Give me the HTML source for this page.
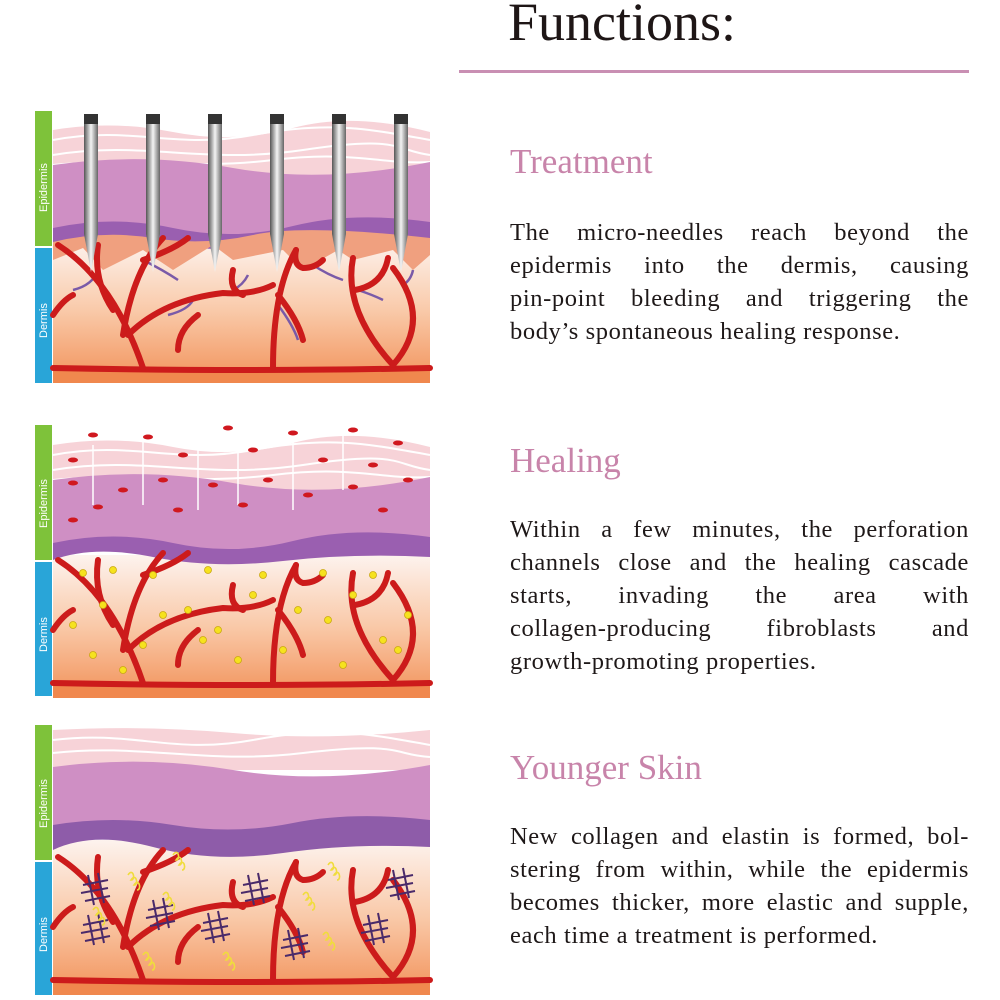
<!DOCTYPE html>
<html><head><meta charset="utf-8"><style>
body{margin:0;background:#fff;width:1000px;height:1000px;position:relative;overflow:hidden;font-family:"Liberation Serif",serif}
h1{position:absolute;left:508px;top:-9px;margin:0;font-weight:normal;font-size:54px;color:#1e1616}
.hr{position:absolute;left:459px;top:70px;width:510px;height:3px;background:#c98fb3}
.h{position:absolute;left:510px;font-size:35px;color:#c884aa}
.p{position:absolute;left:510px;width:459px;font-size:24.5px;letter-spacing:0.6px;line-height:33px;color:#1e1818}
.p div{text-align:justify;text-align-last:justify;white-space:nowrap;height:33px}
.p div.l{text-align-last:left}
svg{position:absolute;left:0;top:0}
</style></head><body>
<h1>Functions:</h1>
<div class="hr"></div>
<div class="h" style="top:142px">Treatment</div>
<div class="p" style="top:216px"><div>The micro-needles reach beyond the</div><div>epidermis into the dermis, causing</div><div>pin-point bleeding and triggering the</div><div class="l">body’s spontaneous healing response.</div></div>
<div class="h" style="top:441px">Healing</div>
<div class="p" style="top:513px"><div>Within a few minutes, the perforation</div><div>channels close and the healing cascade</div><div>starts, invading the area with</div><div>collagen-producing fibroblasts and</div><div class="l">growth-promoting properties.</div></div>
<div class="h" style="top:748px">Younger Skin</div>
<div class="p" style="top:820px"><div>New collagen and elastin is formed, bol-</div><div>stering from within, while the epidermis</div><div>becomes thicker, more elastic and supple,</div><div class="l">each time a treatment is performed.</div></div>

<svg width="1000" height="1000" viewBox="0 0 1000 1000">
<defs>
<linearGradient id="derm" x1="0" y1="0" x2="0" y2="1">
<stop offset="0" stop-color="#fdf3ee"/><stop offset="0.5" stop-color="#f9c9a8"/><stop offset="1" stop-color="#f2925a"/></linearGradient>
<linearGradient id="ndl" x1="0" y1="0" x2="1" y2="0">
<stop offset="0" stop-color="#555"/><stop offset="0.5" stop-color="#f4f4f4"/><stop offset="1" stop-color="#666"/></linearGradient>
<g id="base">
<rect x="0" y="0" width="377" height="273" fill="#fff"/>
<rect x="0" y="130" width="377" height="143" fill="url(#derm)"/>
<path d="M0 20 Q60 10 120 22 T240 18 T377 22 V70 H0Z" fill="#f7d3d8"/>
<path d="M0 30 C80 15 120 40 200 25 S320 20 377 30 M0 45 C90 30 150 55 250 40 S340 40 377 45 M0 55 C70 48 140 60 220 50 S330 55 377 52" stroke="#fff" stroke-width="2" fill="none"/>
<path d="M0 55 Q90 42 180 58 T377 52 V125 Q300 118 230 128 T100 124 T0 122Z" fill="#cf8fc4"/>
<path d="M0 118 Q60 105 120 118 T240 116 T377 112 V132 Q300 128 230 136 T100 132 T0 135Z" fill="#9a5fb0"/>
<rect x="0" y="258" width="377" height="15" fill="#f0884e"/>
</g>
<g id="ves" fill="none" stroke="#cc1b1b" stroke-width="6" stroke-linecap="round">
<path d="M0 258 Q200 262 377 258"/>
<path d="M5 135 Q60 170 90 258"/>
<path d="M45 135 Q40 170 60 200"/>
<path d="M110 128 Q80 160 70 225"/>
<path d="M135 128 Q120 140 90 150"/>
<path d="M75 225 Q110 190 170 183 Q200 185 220 175"/>
<path d="M180 160 Q175 180 190 185"/>
<path d="M145 205 Q125 220 125 240"/>
<path d="M243 140 Q220 180 220 258"/>
<path d="M243 140 Q240 155 250 158 Q262 158 270 150"/>
<path d="M225 185 Q245 210 250 230"/>
<path d="M300 148 Q290 200 340 255"/>
<path d="M302 180 Q330 175 335 148"/>
<path d="M340 158 Q380 210 340 255"/>
<path d="M0 205 Q10 190 20 185"/>
</g>
</defs>

<!-- Panel 1 -->
<rect x="35" y="111" width="17" height="135" fill="#7ec23a"/>
<rect x="35" y="248" width="17" height="135" fill="#29a5d8"/>
<text transform="translate(47,212) rotate(-90)" font-family="Liberation Sans,sans-serif" font-size="11" fill="#fff">Epidermis</text>
<text transform="translate(47,338) rotate(-90)" font-family="Liberation Sans,sans-serif" font-size="11" fill="#fff">Dermis</text>
<g transform="translate(53,110)">
<use href="#base"/>
<path d="M0 132 Q50 120 100 128 T200 125 T377 128 V145 L360 160 L340 140 L300 150 L285 140 L250 160 L230 140 L180 150 L160 135 L120 160 L90 140 L50 160 L30 138 L0 150Z" fill="#f0a07f"/>
<g stroke="#7a5aa8" stroke-width="2.5" fill="none"><path d="M20 180 Q40 175 45 160"/><path d="M90 150 Q110 160 125 170"/><path d="M115 205 Q135 200 140 190"/><path d="M195 165 Q190 175 180 180"/><path d="M225 195 Q240 215 245 230"/><path d="M260 155 Q275 165 290 170"/><path d="M305 180 Q320 185 330 190"/><path d="M360 160 Q358 170 350 175"/></g>
<use href="#ves"/>
<g id="nd"><path d="M31 4 h14 v120 q-7 38 -7 38 q0 0 -7 -38z" fill="url(#ndl)"/><rect x="31" y="4" width="14" height="10" fill="#333"/></g>
<use href="#nd" x="62"/><use href="#nd" x="124"/><use href="#nd" x="186"/><use href="#nd" x="248"/><use href="#nd" x="310"/>
</g>

<!-- Panel 2 -->
<rect x="35" y="425" width="17" height="135" fill="#7ec23a"/>
<rect x="35" y="562" width="17" height="134" fill="#29a5d8"/>
<text transform="translate(47,528) rotate(-90)" font-family="Liberation Sans,sans-serif" font-size="11" fill="#fff">Epidermis</text>
<text transform="translate(47,652) rotate(-90)" font-family="Liberation Sans,sans-serif" font-size="11" fill="#fff">Dermis</text>
<g transform="translate(53,425)">
<use href="#base"/>
<rect x="0" y="258" width="377" height="15" fill="#f0884e"/>
<g stroke="#fff" stroke-width="1.5"><path d="M40 20v60M90 15v65M145 10v75M185 20v60M240 15v70M290 10v55"/></g>
<g fill="#d0181f">
<ellipse cx="40" cy="10" rx="5" ry="2.5"/><ellipse cx="95" cy="12" rx="5" ry="2.5"/><ellipse cx="175" cy="3" rx="5" ry="2.5"/><ellipse cx="240" cy="8" rx="5" ry="2.5"/><ellipse cx="300" cy="5" rx="5" ry="2.5"/><ellipse cx="345" cy="18" rx="5" ry="2.5"/>
<ellipse cx="20" cy="35" rx="5" ry="2.5"/><ellipse cx="130" cy="30" rx="5" ry="2.5"/><ellipse cx="200" cy="25" rx="5" ry="2.5"/><ellipse cx="270" cy="35" rx="5" ry="2.5"/><ellipse cx="320" cy="40" rx="5" ry="2.5"/>
<ellipse cx="20" cy="58" rx="5" ry="2.5"/><ellipse cx="70" cy="65" rx="5" ry="2.5"/><ellipse cx="110" cy="55" rx="5" ry="2.5"/><ellipse cx="160" cy="60" rx="5" ry="2.5"/><ellipse cx="215" cy="55" rx="5" ry="2.5"/><ellipse cx="255" cy="70" rx="5" ry="2.5"/><ellipse cx="300" cy="62" rx="5" ry="2.5"/><ellipse cx="355" cy="55" rx="5" ry="2.5"/>
<ellipse cx="45" cy="82" rx="5" ry="2.5"/><ellipse cx="125" cy="85" rx="5" ry="2.5"/><ellipse cx="190" cy="80" rx="5" ry="2.5"/><ellipse cx="330" cy="85" rx="5" ry="2.5"/><ellipse cx="20" cy="95" rx="5" ry="2.5"/>
</g>
<use href="#ves"/>
<g fill="#f6e21e" stroke="#c9a810" stroke-width="0.8">
<circle cx="30" cy="148" r="3.5"/><circle cx="60" cy="145" r="3.5"/><circle cx="100" cy="150" r="3.5"/><circle cx="155" cy="145" r="3.5"/><circle cx="210" cy="150" r="3.5"/><circle cx="270" cy="148" r="3.5"/><circle cx="320" cy="150" r="3.5"/>
<circle cx="20" cy="200" r="3.5"/><circle cx="50" cy="180" r="3.5"/><circle cx="110" cy="190" r="3.5"/><circle cx="135" cy="185" r="3.5"/><circle cx="165" cy="205" r="3.5"/><circle cx="200" cy="170" r="3.5"/><circle cx="245" cy="185" r="3.5"/><circle cx="275" cy="195" r="3.5"/><circle cx="300" cy="170" r="3.5"/><circle cx="330" cy="215" r="3.5"/><circle cx="355" cy="190" r="3.5"/>
<circle cx="40" cy="230" r="3.5"/><circle cx="90" cy="220" r="3.5"/><circle cx="150" cy="215" r="3.5"/><circle cx="185" cy="235" r="3.5"/><circle cx="230" cy="225" r="3.5"/><circle cx="290" cy="240" r="3.5"/><circle cx="345" cy="225" r="3.5"/><circle cx="70" cy="245" r="3.5"/>
</g>
</g>

<!-- Panel 3 -->
<rect x="35" y="725" width="17" height="135" fill="#7ec23a"/>
<rect x="35" y="862" width="17" height="133" fill="#29a5d8"/>
<text transform="translate(47,828) rotate(-90)" font-family="Liberation Sans,sans-serif" font-size="11" fill="#fff">Epidermis</text>
<text transform="translate(47,952) rotate(-90)" font-family="Liberation Sans,sans-serif" font-size="11" fill="#fff">Dermis</text>
<g transform="translate(53,725)">
<rect x="0" y="0" width="377" height="270" fill="#fff"/>
<rect x="0" y="115" width="377" height="155" fill="url(#derm)"/>
<path d="M0 5 Q90 0 180 8 T377 5 V45 H0Z" fill="#f7d3d8"/>
<path d="M0 15 C80 5 120 30 200 15 S320 10 377 20 M0 28 C90 18 150 40 250 28 S340 30 377 32" stroke="#fff" stroke-width="2" fill="none"/>
<path d="M0 42 Q90 30 180 45 T377 40 V105 H0Z" fill="#cf8fc4"/>
<path d="M0 100 Q60 90 120 100 T240 98 T377 95 V122 Q300 118 230 128 T100 122 T0 125Z" fill="#8e5ca9"/>
<rect x="0" y="255" width="377" height="15" fill="#f0884e"/>
<use href="#ves" y="-3"/>
<g stroke="#4a2a6a" stroke-width="2" fill="none">
<path d="M30 160 l25 -5 M28 168 l27 -5 M32 176 l25 -5 M35 150 l6 30 M45 148 l6 30"/>
<path d="M95 185 l25 -5 M93 193 l27 -5 M97 201 l25 -5 M100 175 l6 30 M110 173 l6 30"/>
<path d="M190 160 l25 -5 M188 168 l27 -5 M192 176 l25 -5 M195 150 l6 30 M205 148 l6 30"/>
<path d="M30 200 l25 -5 M28 208 l27 -5 M32 216 l25 -5 M35 190 l6 30 M45 188 l6 30"/>
<path d="M150 198 l25 -5 M148 206 l27 -5 M152 214 l25 -5 M155 188 l6 30 M165 186 l6 30"/>
<path d="M230 215 l25 -5 M228 223 l27 -5 M232 231 l25 -5 M235 205 l6 30 M245 203 l6 30"/>
<path d="M310 200 l25 -5 M308 208 l27 -5 M312 216 l25 -5 M315 190 l6 30 M325 188 l6 30"/>
<path d="M335 155 l25 -5 M333 163 l27 -5 M337 171 l25 -5 M340 145 l6 30 M350 143 l6 30"/>
</g>
<g stroke="#f0dc3c" stroke-width="1.6" fill="none">
<path d="M75 150 c5 -8 8 5 3 5 c5 -8 8 5 3 5 c5 -8 8 5 3 5"/>
<path d="M120 130 c5 -8 8 5 3 5 c5 -8 8 5 3 5 c5 -8 8 5 3 5"/>
<path d="M110 170 c5 -8 8 5 3 5 c5 -8 8 5 3 5 c5 -8 8 5 3 5"/>
<path d="M90 230 c5 -8 8 5 3 5 c5 -8 8 5 3 5 c5 -8 8 5 3 5"/>
<path d="M170 230 c5 -8 8 5 3 5 c5 -8 8 5 3 5 c5 -8 8 5 3 5"/>
<path d="M250 170 c5 -8 8 5 3 5 c5 -8 8 5 3 5 c5 -8 8 5 3 5"/>
<path d="M275 140 c5 -8 8 5 3 5 c5 -8 8 5 3 5 c5 -8 8 5 3 5"/>
<path d="M270 210 c5 -8 8 5 3 5 c5 -8 8 5 3 5 c5 -8 8 5 3 5"/>
<path d="M40 185 c5 -8 8 5 3 5 c5 -8 8 5 3 5 c5 -8 8 5 3 5"/>
</g>
</g>
</svg>
</body></html>
